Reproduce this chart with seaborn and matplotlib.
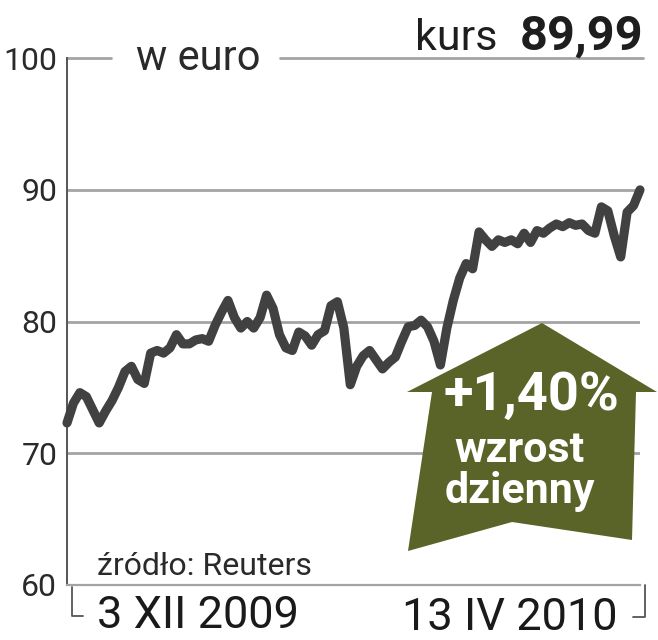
import matplotlib
matplotlib.use('Agg')
import matplotlib.pyplot as plt
from matplotlib.patches import Polygon
from matplotlib.lines import Line2D
import numpy as np
import pandas as pd
import seaborn as sns

# daily close, 3 XII 2009 .. 13 IV 2010 (w euro)
kurs = [72.3, 73.8, 74.6, 74.3, 73.3, 72.3, 73.2, 74.0, 75.0, 76.2,
        76.6, 75.6, 75.3, 77.6, 77.8, 77.6, 78.0, 79.0, 78.3, 78.3,
        78.6, 78.7, 78.5, 79.7, 80.7, 81.6, 80.3, 79.5, 80.0, 79.5,
        80.3, 82.0, 81.0, 79.0, 78.0, 77.8, 79.2, 78.9, 78.2, 79.0,
        79.3, 81.2, 81.5, 79.5, 75.2, 76.6, 77.4, 77.8, 77.1, 76.4,
        76.9, 77.3, 78.5, 79.6, 79.7, 80.1, 79.6, 78.5, 76.7, 79.5,
        81.6, 83.3, 84.4, 84.0, 86.8, 86.2, 85.7, 86.2, 86.0, 86.2,
        85.9, 86.7, 86.0, 86.9, 86.7, 87.1, 87.4, 87.2, 87.5, 87.3,
        87.4, 86.9, 86.7, 88.7, 88.4, 86.5, 84.9, 88.3, 88.8, 89.99]
y_ticks = [60, 70, 80, 90, 100]
y_labels = ['60', '70', '80', '90', '100']
date_start = '3 XII 2009'
date_end = '13 IV 2010'
last_price = '89,99'
change = '+1,40%'
unit = 'w euro'
source = 'źródło: Reuters'

LINE = '#414141'
GRID = '#a3a3a3'
OLIVE = '#5a6428'

sns.set_style('white')
plt.rcParams['font.family'] = ['Roboto', 'DejaVu Sans']

W, H = 658, 640
fig = plt.figure(figsize=(W / 100, H / 100), dpi=100)


def px(x, y):
    return x / W, 1 - y / H


ax = fig.add_axes([67 / W, (H - 585) / H, (640 - 67) / W, (585 - 58) / H])
df = pd.DataFrame({'dzien': np.arange(len(kurs)), 'kurs': kurs})
sns.lineplot(data=df, x='dzien', y='kurs', ax=ax, color=LINE, linewidth=6.6,
             solid_capstyle='round', solid_joinstyle='round', clip_on=False,
             zorder=3)
ax.set_xlim(0, len(kurs) - 1)
ax.set_ylim(60, 100)
ax.set_xlabel('')
ax.set_ylabel('')
ax.set_xticks([])
ax.set_yticks(y_ticks)
ax.set_yticklabels(y_labels, fontsize=23, color='#2a2a2a')
ax.tick_params(axis='y', length=0, pad=7)

for v in y_ticks[1:-1]:
    ax.axhline(v, color=GRID, lw=2, zorder=1)
# top gridline broken by the unit label
ax.axhline(100, xmin=0, xmax=(111 - 67) / 573, color=GRID, lw=2, clip_on=False)
ax.axhline(100, xmin=(280 - 67) / 573, xmax=1.005, color=GRID, lw=2, clip_on=False)

for s in ['top', 'right']:
    ax.spines[s].set_visible(False)
ax.spines['left'].set_color('#555555')
ax.spines['left'].set_linewidth(1.4)
ax.spines['bottom'].set_color(GRID)
ax.spines['bottom'].set_linewidth(1.6)

# brackets under the x axis
fig.add_artist(Line2D([72 / W, 72 / W, 83 / W], [1 - 587 / H, 1 - 616 / H, 1 - 616 / H],
                      color='#555555', lw=1.3))
fig.add_artist(Line2D([645 / W, 645 / W, 633 / W], [1 - 585 / H, 1 - 617 / H, 1 - 617 / H],
                      color='#555555', lw=1.3))

# texts
fig.text(*px(198, 58), unit, fontsize=30, color='#2a2a2a',
         ha='center', va='center')
fig.text(*px(497, 50), 'kurs', fontsize=31, color='#1e1e1e', ha='right',
         va='baseline')
fig.text(*px(643, 50), last_price, fontsize=35, color='#1e1e1e', ha='right',
         va='baseline', fontweight='bold')
fig.text(*px(97, 575), source, fontsize=23, color='#2a2a2a', ha='left',
         va='baseline')
fig.text(*px(97, 628), date_start, fontsize=32.5, color='#1a1a1a', ha='left',
         va='baseline')
fig.text(*px(618, 630), date_end, fontsize=32.5, color='#1a1a1a', ha='right',
         va='baseline')

# arrow badge
arrow_px = [(542, 323), (657, 392), (636, 392), (632, 540), (512, 522),
            (408, 551), (432, 392), (407, 392)]
fig.add_artist(Polygon([px(x, y) for x, y in arrow_px], closed=True,
                       facecolor=OLIVE, edgecolor='none',
                       transform=fig.transFigure, zorder=5))
fig.text(*px(531, 410), change, fontsize=39, fontweight='bold', color='white',
         ha='center', va='baseline', zorder=6)
fig.text(*px(520, 462), 'wzrost', fontsize=31, fontweight='bold', color='white',
         ha='center', va='baseline', zorder=6)
fig.text(*px(520, 503), 'dzienny', fontsize=31, fontweight='bold', color='white',
         ha='center', va='baseline', zorder=6)

fig.savefig('out.png', dpi=100, facecolor='white')
